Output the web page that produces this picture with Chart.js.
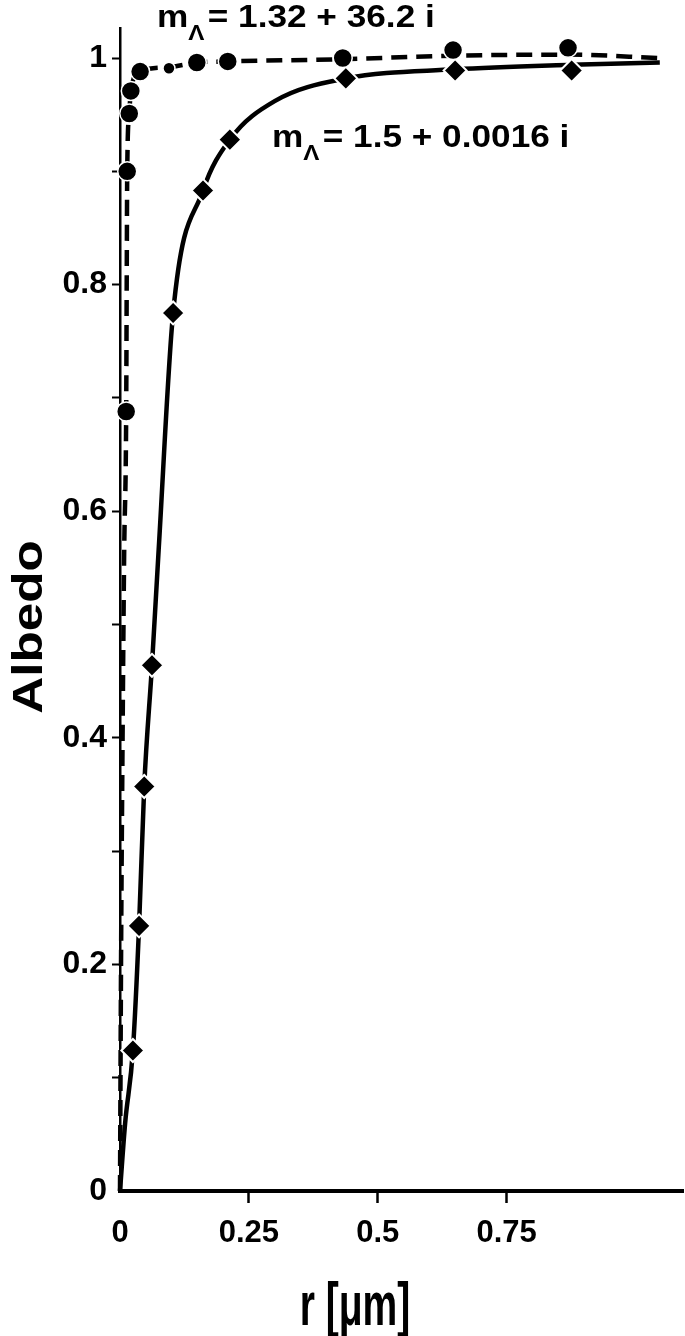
<!DOCTYPE html>
<html>
<head>
<meta charset="utf-8">
<script src="https://cdn.jsdelivr.net/npm/chart.js@4/dist/chart.umd.min.js"></script>
<style>
  html, body { margin: 0; padding: 0; background: #fff; }
  canvas { display: block; }
</style>
</head>
<body>
<canvas id="albedoChart" width="685" height="1336"></canvas>
<script>
// マーカー（●）: m = 1.32 + 36.2 i
const circleR = [0.012, 0.014, 0.018, 0.021, 0.039, 0.095, 0.149, 0.209, 0.432, 0.646, 0.869];
const circleAlbedo = [0.688, 0.900, 0.951, 0.971, 0.988, 0.991, 0.996, 0.997, 1.000, 1.007, 1.009];

// マーカー（◆）: m = 1.5 + 0.0016 i
const diamondR = [0.025, 0.037, 0.047, 0.062, 0.103, 0.161, 0.213, 0.438, 0.650, 0.876];
const diamondAlbedo = [0.124, 0.234, 0.357, 0.464, 0.775, 0.883, 0.928, 0.982, 0.989, 0.989];

// 曲線（破線）
const metalCurveR = [0, 0.002, 0.005, 0.008, 0.012, 0.013, 0.014, 0.018, 0.021, 0.039, 0.095, 0.149, 0.209, 0.432, 0.646, 0.869, 1.047];
const metalCurveAlbedo = [0, 0.2, 0.4, 0.56, 0.688, 0.80, 0.90, 0.951, 0.971, 0.988, 0.992, 0.996, 0.997, 0.999, 1.002, 1.003, 1.000];

// 曲線（実線）
const glassCurveR = [0, 0.010, 0.025, 0.037, 0.047, 0.062, 0.075, 0.103, 0.161, 0.213, 0.300, 0.438, 0.650, 0.876, 1.047];
const glassCurveAlbedo = [0, 0.06, 0.124, 0.234, 0.357, 0.464, 0.566, 0.775, 0.883, 0.928, 0.962, 0.982, 0.990, 0.994, 0.996];

// 目盛り
const xTickValues = [0, 0.25, 0.5, 0.75];
const xTickLabels = ['0', '0.25', '0.5', '0.75'];
const yTickValues = [0, 0.1, 0.2, 0.3, 0.4, 0.5, 0.6, 0.7, 0.8, 0.9, 1.0];
const yTickLabels = ['0', '', '0.2', '', '0.4', '', '0.6', '', '0.8', '', '1'];

// テキスト
const xTitle = 'r [μm]';
const yTitle = 'Albedo';
const metalLabel = '= 1.32 + 36.2 i';
const glassLabel = '= 1.5 + 0.0016 i';

const FONT = '"Liberation Sans", Arial, sans-serif';

const toPoints = (xs, ys) => xs.map((x, i) => ({ x: x, y: ys[i] }));
const hideZeroTick = (c) => (c.tick && c.tick.value === 0 ? 'rgba(0,0,0,0)' : '#000');

// 軸タイトルと注記
const textPlugin = {
  id: 'figureText',
  afterDraw(chart) {
    const ctx = chart.ctx;
    ctx.save();
    ctx.fillStyle = '#000';
    ctx.textBaseline = 'alphabetic';

    // y軸タイトル
    ctx.save();
    ctx.translate(42, 627);
    ctx.rotate(-Math.PI / 2);
    ctx.scale(1.22, 1);
    ctx.font = 'bold 42px ' + FONT;
    ctx.textAlign = 'center';
    ctx.fillText(yTitle, 0, 0);
    ctx.restore();

    // x軸タイトル
    ctx.save();
    ctx.translate(355, 1325);
    ctx.scale(0.63, 1);
    ctx.font = 'bold 62px ' + FONT;
    ctx.textAlign = 'center';
    ctx.fillText(xTitle, 0, 0);
    ctx.restore();

    // m_Λ ラベル
    const drawLabel = (x, y, rest) => {
      ctx.save();
      ctx.translate(x, y);
      ctx.scale(1.1, 1);
      ctx.textAlign = 'left';
      ctx.font = 'bold 32px ' + FONT;
      ctx.fillText('m', 0, 0);
      const mw = ctx.measureText('m').width;
      ctx.font = 'bold 22px ' + FONT;
      ctx.fillText('Λ', mw, 13);
      const lw = ctx.measureText('Λ').width;
      ctx.font = 'bold 32px ' + FONT;
      ctx.fillText(rest, mw + lw + 3, 0);
      ctx.restore();
    };
    drawLabel(157, 27, metalLabel);
    drawLabel(272, 147, glassLabel);

    ctx.restore();
  }
};

const ctx = document.getElementById('albedoChart').getContext('2d');
new Chart(ctx, {
  type: 'line',
  data: {
    datasets: [
      {
        type: 'scatter',
        data: toPoints(circleR, circleAlbedo),
        pointStyle: 'circle',
        pointRadius: (c) => (c.dataIndex === 5 ? 6 : 9.5),
        pointBackgroundColor: '#000',
        pointBorderColor: '#fff',
        pointBorderWidth: 1.5,
        showLine: false,
        clip: false,
        order: 0
      },
      {
        type: 'scatter',
        data: toPoints(diamondR, diamondAlbedo),
        pointStyle: 'rectRot',
        pointRadius: 11.5,
        pointBackgroundColor: '#000',
        pointBorderColor: '#fff',
        pointBorderWidth: 2,
        showLine: false,
        clip: false,
        order: 0
      },
      {
        data: toPoints(metalCurveR, metalCurveAlbedo),
        borderColor: '#000',
        borderWidth: 4.5,
        borderDash: [16, 9],
        pointRadius: 0,
        fill: false,
        clip: false,
        cubicInterpolationMode: 'monotone',
        order: 1
      },
      {
        data: toPoints(glassCurveR, glassCurveAlbedo),
        borderColor: '#000',
        borderWidth: 4.5,
        pointRadius: 0,
        fill: false,
        clip: false,
        cubicInterpolationMode: 'monotone',
        order: 1
      }
    ]
  },
  options: {
    responsive: false,
    animation: false,
    layout: { autoPadding: false, padding: { left: 0, right: 2, top: 28, bottom: 0 } },
    plugins: {
      legend: { display: false },
      tooltip: { enabled: false }
    },
    scales: {
      x: {
        type: 'linear',
        min: 0,
        max: 1.092,
        afterBuildTicks: (scale) => { scale.ticks = xTickValues.map(v => ({ value: v })); },
        afterFit: (scale) => {
          scale.height = 145;
          scale.paddingLeft = 0;
          scale.paddingRight = 0;
        },
        ticks: {
          color: '#000',
          padding: 12,
          maxRotation: 0,
          autoSkip: false,
          font: { family: FONT, size: 31, weight: 'bold' },
          callback: (v, i) => xTickLabels[i]
        },
        grid: {
          drawOnChartArea: false,
          drawTicks: true,
          tickLength: 12,
          tickWidth: 2.5,
          tickColor: hideZeroTick
        },
        border: { display: true, color: '#000', width: 4 }
      },
      y: {
        type: 'linear',
        min: 0,
        max: 1.0265,
        afterBuildTicks: (scale) => { scale.ticks = yTickValues.map(v => ({ value: v })); },
        afterFit: (scale) => {
          scale.width = 120;
          scale.paddingTop = 0;
          scale.paddingBottom = 0;
        },
        ticks: {
          color: '#000',
          padding: 5,
          autoSkip: false,
          font: { family: FONT, size: 32, weight: 'bold' },
          callback: (v, i) => yTickLabels[i]
        },
        grid: {
          drawOnChartArea: false,
          drawTicks: true,
          tickLength: 8,
          tickWidth: 2,
          tickColor: hideZeroTick
        },
        border: { display: true, color: '#000', width: 2.5 }
      }
    }
  },
  plugins: [textPlugin]
});
</script>
</body>
</html>
